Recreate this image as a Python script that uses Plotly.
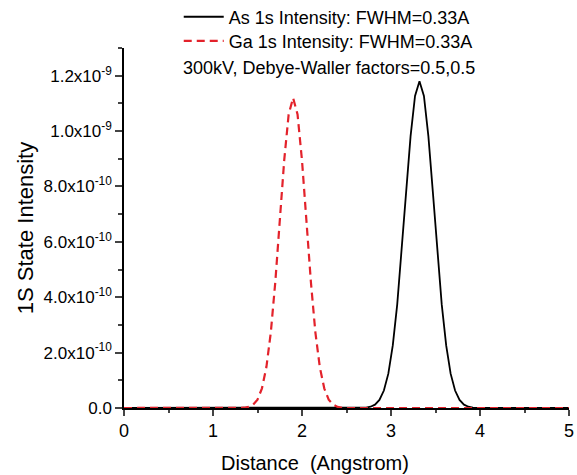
import plotly.graph_objects as go

# Distance (Angstrom) and intensity (units of 1e-10)
ga_x = [0.0, 1.00, 1.30, 1.35, 1.40, 1.45, 1.50, 1.55, 1.60, 1.65, 1.70, 1.75, 1.80,
        1.85, 1.90, 1.95, 2.00, 2.05, 2.10, 2.15, 2.20, 2.25, 2.30, 2.35, 2.40,
        2.45, 2.50, 3.00, 4.00, 5.00]
ga_y = [0.0, 0.0, 0.0, 0.01, 0.04, 0.12, 0.30, 0.71, 1.48, 2.74, 4.55, 6.75, 8.94,
        10.6, 11.2, 10.6, 8.94, 6.75, 4.55, 2.74, 1.48, 0.71, 0.30,
        0.12, 0.04, 0.01, 0.0, 0.0, 0.0, 0.0]

as_x = [0.0, 1.00, 2.00, 2.62, 2.67, 2.72, 2.77, 2.82, 2.87, 2.92, 2.97, 3.02, 3.07,
        3.12, 3.17, 3.22, 3.27, 3.32, 3.37, 3.42, 3.47, 3.52, 3.57, 3.62,
        3.67, 3.72, 3.77, 3.82, 3.87, 3.92, 3.97, 4.02, 5.00]
as_y = [0.0, 0.0, 0.0, 0.0, 0.004, 0.016, 0.045, 0.12, 0.29, 0.63, 1.24, 2.26, 3.74,
        5.66, 7.81, 9.82, 11.27, 11.8, 11.27, 9.82, 7.81, 5.66, 3.74, 2.26,
        1.24, 0.63, 0.29, 0.12, 0.045, 0.016, 0.004, 0.0, 0.0]

unit = 1e-10

y_tick_vals = [0, 2e-10, 4e-10, 6e-10, 8e-10, 1.0e-9, 1.2e-9]
y_tick_text = ["0.0", "2.0x10<sup>-10</sup>", "4.0x10<sup>-10</sup>", "6.0x10<sup>-10</sup>",
               "8.0x10<sup>-10</sup>", "1.0x10<sup>-9</sup>", "1.2x10<sup>-9</sup>"]
x_tick_vals = [0, 1, 2, 3, 4, 5]

as_name = "As 1s Intensity: FWHM=0.33A"
ga_name = "Ga 1s Intensity: FWHM=0.33A"
note = "300kV, Debye-Waller factors=0.5,0.5"
x_title = "Distance  (Angstrom)"
y_title = "1S State Intensity"

font_family = "Liberation Sans, Arial, sans-serif"

fig = go.Figure()
fig.add_trace(go.Scatter(x=as_x, y=[v * unit for v in as_y], mode="lines",
                         name=as_name, legend="legend", showlegend=True,
                         line=dict(color="black", width=1.8)))
fig.add_trace(go.Scatter(x=ga_x, y=[v * unit for v in ga_y], mode="lines",
                         name=ga_name, legend="legend2", showlegend=True,
                         line=dict(color="#e3222b", width=2.2, dash="8px,5px")))

leg_common = dict(xanchor="left", yanchor="middle", bgcolor="rgba(0,0,0,0)",
                  font=dict(size=18), itemwidth=40, visible=True)

fig.update_layout(
    width=577, height=475,
    showlegend=True,
    margin=dict(l=124, r=8, t=48, b=67, autoexpand=False),
    paper_bgcolor="white", plot_bgcolor="white",
    font=dict(family=font_family, color="black", size=17),
    legend=dict(x=0.123, y=1.086, **leg_common),
    legend2=dict(x=0.123, y=1.019, **leg_common),
    annotations=[
        dict(text=note, xref="paper", yref="paper", x=0.128, y=0.944,
             xanchor="left", yanchor="middle", showarrow=False, font=dict(size=18)),
        dict(text=x_title, xref="paper", yref="paper", x=0.429, y=-0.152,
             xanchor="center", yanchor="middle", showarrow=False, font=dict(size=20)),
    ],
)

fig.update_xaxes(range=[0, 5], tickvals=x_tick_vals, ticks="outside", ticklen=6,
                 tickwidth=1.5, showline=True, linecolor="black", linewidth=1.5,
                 showgrid=False, zeroline=False, tickfont=dict(size=18),
                 minor=dict(dtick=0.5, tick0=0, ticks="outside", ticklen=3, tickwidth=1.5, showgrid=False))
fig.update_yaxes(range=[0, 1.3e-9], tickvals=y_tick_vals, ticktext=y_tick_text,
                 ticks="outside", ticklen=7, tickwidth=1.5, showline=True,
                 linecolor="black", linewidth=1.5, showgrid=False, zeroline=False,
                 tickfont=dict(size=17),
                 minor=dict(dtick=1e-10, tick0=0, ticks="outside", ticklen=4, tickwidth=1.5, showgrid=False),
                 title=dict(text=y_title, font=dict(size=22), standoff=4))

fig.write_html("out.html", config={"displayModeBar": False})

# remove the browser's default page margin so the figure sits at the window's corner
with open("out.html", "r", encoding="utf-8") as f:
    html = f.read()
html = html.replace("<body>", '<body style="margin:0;padding:0;">', 1)
with open("out.html", "w", encoding="utf-8") as f:
    f.write(html)
